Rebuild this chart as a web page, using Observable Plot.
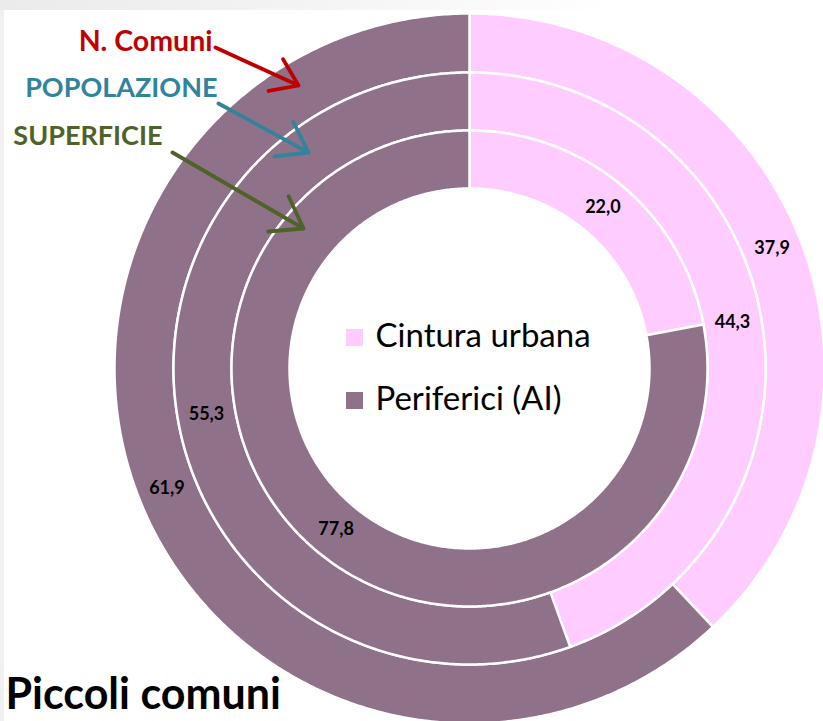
<!DOCTYPE html>
<html><head><meta charset="utf-8">
<script src="https://cdn.jsdelivr.net/npm/d3@7"></script>
<script src="https://cdn.jsdelivr.net/npm/@observablehq/plot@0.6"></script>
<style>
html,body{margin:0;padding:0;}
body{width:823px;height:721px;overflow:hidden;
background: linear-gradient(to right,#ebebeb,#f3f3f3 35%,#ffffff 75%) top left/100% 10px no-repeat,
            linear-gradient(#f0f0f0,#f0f0f0) top left/4px 100% no-repeat, #ffffff;}
#chart svg{display:block;background:transparent;}
</style></head>
<body><div id="chart"></div>
<script>
// ---- data ----
const rings = ["N. Comuni", "POPOLAZIONE", "SUPERFICIE"];          // outer -> inner
const categories = ["Cintura urbana", "Periferici (AI)"];
const cinturaValues = [37.9, 44.3, 22.0];
const perifericiValues = [61.9, 55.3, 77.8];
const title = "Piccoli comuni";

// ---- styles ----
const catColors = ["#FFCCFF", "#8F7189"];
const ringColors = ["#C00000", "#31849B", "#4F6228"];
const W = 823, H = 721, CX = 469, CY = 368;
const radii = [355, 296, 238, 180];
const FONT = "Lato, 'Open Sans', sans-serif";
const px = (x) => x - CX, py = (y) => CY - y;

// build slices from the data
const slices = [];
rings.forEach((ring, i) => {
  const vals = [cinturaValues[i], perifericiValues[i]];
  const total = d3.sum(vals);
  let a = 0;
  vals.forEach((v, j) => {
    const a0 = a, a1 = a + v / total * 360;
    a = a1;
    slices.push({ring, cat: categories[j], value: v, a0, a1, r0: radii[i + 1], r1: radii[i], color: catColors[j]});
  });
});
function polygon(s) {
  const pts = [];
  const n = Math.max(2, Math.ceil((s.a1 - s.a0) / 0.5));
  for (let k = 0; k <= n; k++) {
    const t = (s.a0 + (s.a1 - s.a0) * k / n) * Math.PI / 180;
    pts.push({x: s.r1 * Math.sin(t), y: s.r1 * Math.cos(t)});
  }
  for (let k = n; k >= 0; k--) {
    const t = (s.a0 + (s.a1 - s.a0) * k / n) * Math.PI / 180;
    pts.push({x: s.r0 * Math.sin(t), y: s.r0 * Math.cos(t)});
  }
  return pts;
}
const labelPos = slices.map(s => {
  const t = (s.a0 + s.a1) / 2 * Math.PI / 180, r = (s.r0 + s.r1) / 2;
  return {x: r * Math.sin(t), y: r * Math.cos(t), text: s.value.toFixed(1).replace(".", ",")};
});

// annotation placement (pixels)
const ringLabelPos = [[212, 41], [217, 88], [162, 136]];
const ringLabelSize = [28.5, 27, 27];
const arrowPos = [[215, 47, 298, 85], [218, 103, 308, 152], [172, 152, 303, 228]];
const legendSquareY = [337, 400];
const legendTextY = [336, 399];

const chart = Plot.plot({
  width: W, height: H, margin: 0,
  x: {domain: [px(0), px(W)], axis: null},
  y: {domain: [py(H), py(0)], axis: null},
  style: {fontFamily: FONT, background: "transparent", overflow: "visible"},
  marks: [
    ...slices.map(s => Plot.line(polygon(s), {x: "x", y: "y", curve: "linear-closed", fill: s.color, stroke: "white", strokeWidth: 2.5})),
    Plot.text(labelPos, {x: "x", y: "y", text: "text", fontSize: 18, fontWeight: "bold", fill: "black"}),
    ...rings.map((r, i) => Plot.text([r], {x: px(ringLabelPos[i][0]), y: py(ringLabelPos[i][1]), text: d => d, textAnchor: "end", fontSize: ringLabelSize[i], fontWeight: "bold", fill: ringColors[i]})),
    Plot.arrow(rings, {x1: (d, i) => px(arrowPos[i][0]), y1: (d, i) => py(arrowPos[i][1]), x2: (d, i) => px(arrowPos[i][2]), y2: (d, i) => py(arrowPos[i][3]), stroke: (d, i) => ringColors[i], strokeWidth: 3.8, headLength: 14, headAngle: 70}),
    Plot.dot(categories, {x: px(354), y: (d, i) => py(legendSquareY[i]), symbol: "square", r: 9.6, fill: (d, i) => catColors[i], stroke: "none"}),
    Plot.text(categories, {x: px(375), y: (d, i) => py(legendTextY[i]), text: d => d, textAnchor: "start", fontSize: 33, fill: "black"}),
    Plot.text([title], {x: px(5), y: py(695), text: d => d, textAnchor: "start", fontSize: 43, fontWeight: "bold", fill: "black"})
  ]
});
document.getElementById("chart").appendChild(chart);
</script>
</body></html>
